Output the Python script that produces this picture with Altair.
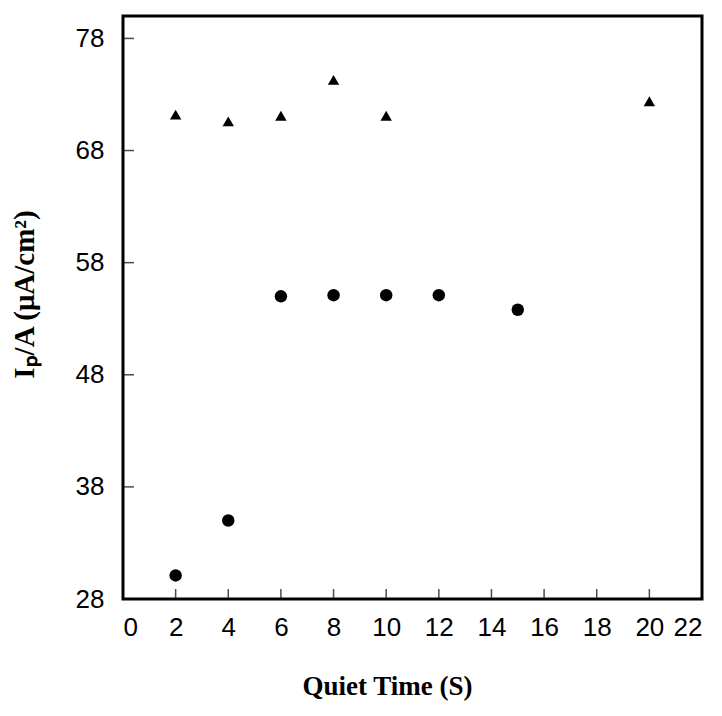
import altair as alt
import pandas as pd

# Data
tri_x = [2, 4, 6, 8, 10, 20]
tri_y = [71.2, 70.6, 71.1, 74.3, 71.1, 72.4]
circ_x = [2, 4, 6, 8, 10, 12, 15]
circ_y = [30.1, 35.0, 55.0, 55.1, 55.1, 55.1, 53.8]
x_ticks = [0, 2, 4, 6, 8, 10, 12, 14, 16, 18, 20, 22]
x_inner_ticks = [2, 4, 6, 8, 10, 12, 14, 16, 18, 20]
y_ticks = [28, 38, 48, 58, 68, 78]
y_inner_ticks = [38, 48, 58, 68, 78]

W, H = 579, 583

tri = pd.DataFrame({"x": tri_x, "y": tri_y})
circ = pd.DataFrame({"x": circ_x, "y": circ_y})
xt = pd.DataFrame({"x": x_inner_ticks})
yt = pd.DataFrame({"y": y_inner_ticks})

xscale = alt.Scale(domain=[0, 22], nice=False, zero=False)
yscale = alt.Scale(domain=[28, 80], nice=False, zero=False)

xaxis = alt.Axis(values=x_ticks, ticks=False, domain=False, grid=False,
                 labelFont="Liberation Sans", labelFontSize=26, labelColor="black",
                 labelPadding=15, title="Quiet Time (S)", titleFont="Liberation Serif",
                 titleFontSize=27, titleFontWeight="bold", titleColor="black",
                 titlePadding=33, titleX=264)
yaxis = alt.Axis(values=y_ticks, ticks=False, domain=False, grid=False,
                 labelFont="Liberation Sans", labelFontSize=26, labelColor="black",
                 labelPadding=19, title="Iₚ/A (μA/cm²)", titleFont="Liberation Serif",
                 titleFontSize=29, titleFontWeight="bold", titleColor="black",
                 titlePadding=36, titleY=278)

circles = alt.Chart(circ).mark_point(shape="circle", filled=True, color="black",
                                      size=155, opacity=1).encode(
    x=alt.X("x:Q", scale=xscale, axis=xaxis),
    y=alt.Y("y:Q", scale=yscale, axis=yaxis),
)

triangles = alt.Chart(tri).mark_point(shape="triangle-up", filled=True, color="black",
                                       size=130, opacity=1).encode(
    x=alt.X("x:Q", scale=xscale),
    y=alt.Y("y:Q", scale=yscale),
)

xticks_layer = alt.Chart(xt).mark_tick(color="black", thickness=1.5, size=10,
                                        yOffset=-5).encode(
    x=alt.X("x:Q", scale=xscale),
    y=alt.value(H),
)

yticks_layer = alt.Chart(yt).mark_tick(color="black", thickness=1.5, size=11,
                                        xOffset=5.5).encode(
    y=alt.Y("y:Q", scale=yscale),
    x=alt.value(0),
)

chart = alt.layer(xticks_layer, yticks_layer, circles, triangles).properties(
    width=W, height=H,
    background="white",
    padding={"left": 2, "top": 8, "right": 5, "bottom": 5},
).configure_view(
    stroke="black", strokeWidth=3
)

chart.save("out.html", embed_options={"renderer": "svg", "actions": False})
